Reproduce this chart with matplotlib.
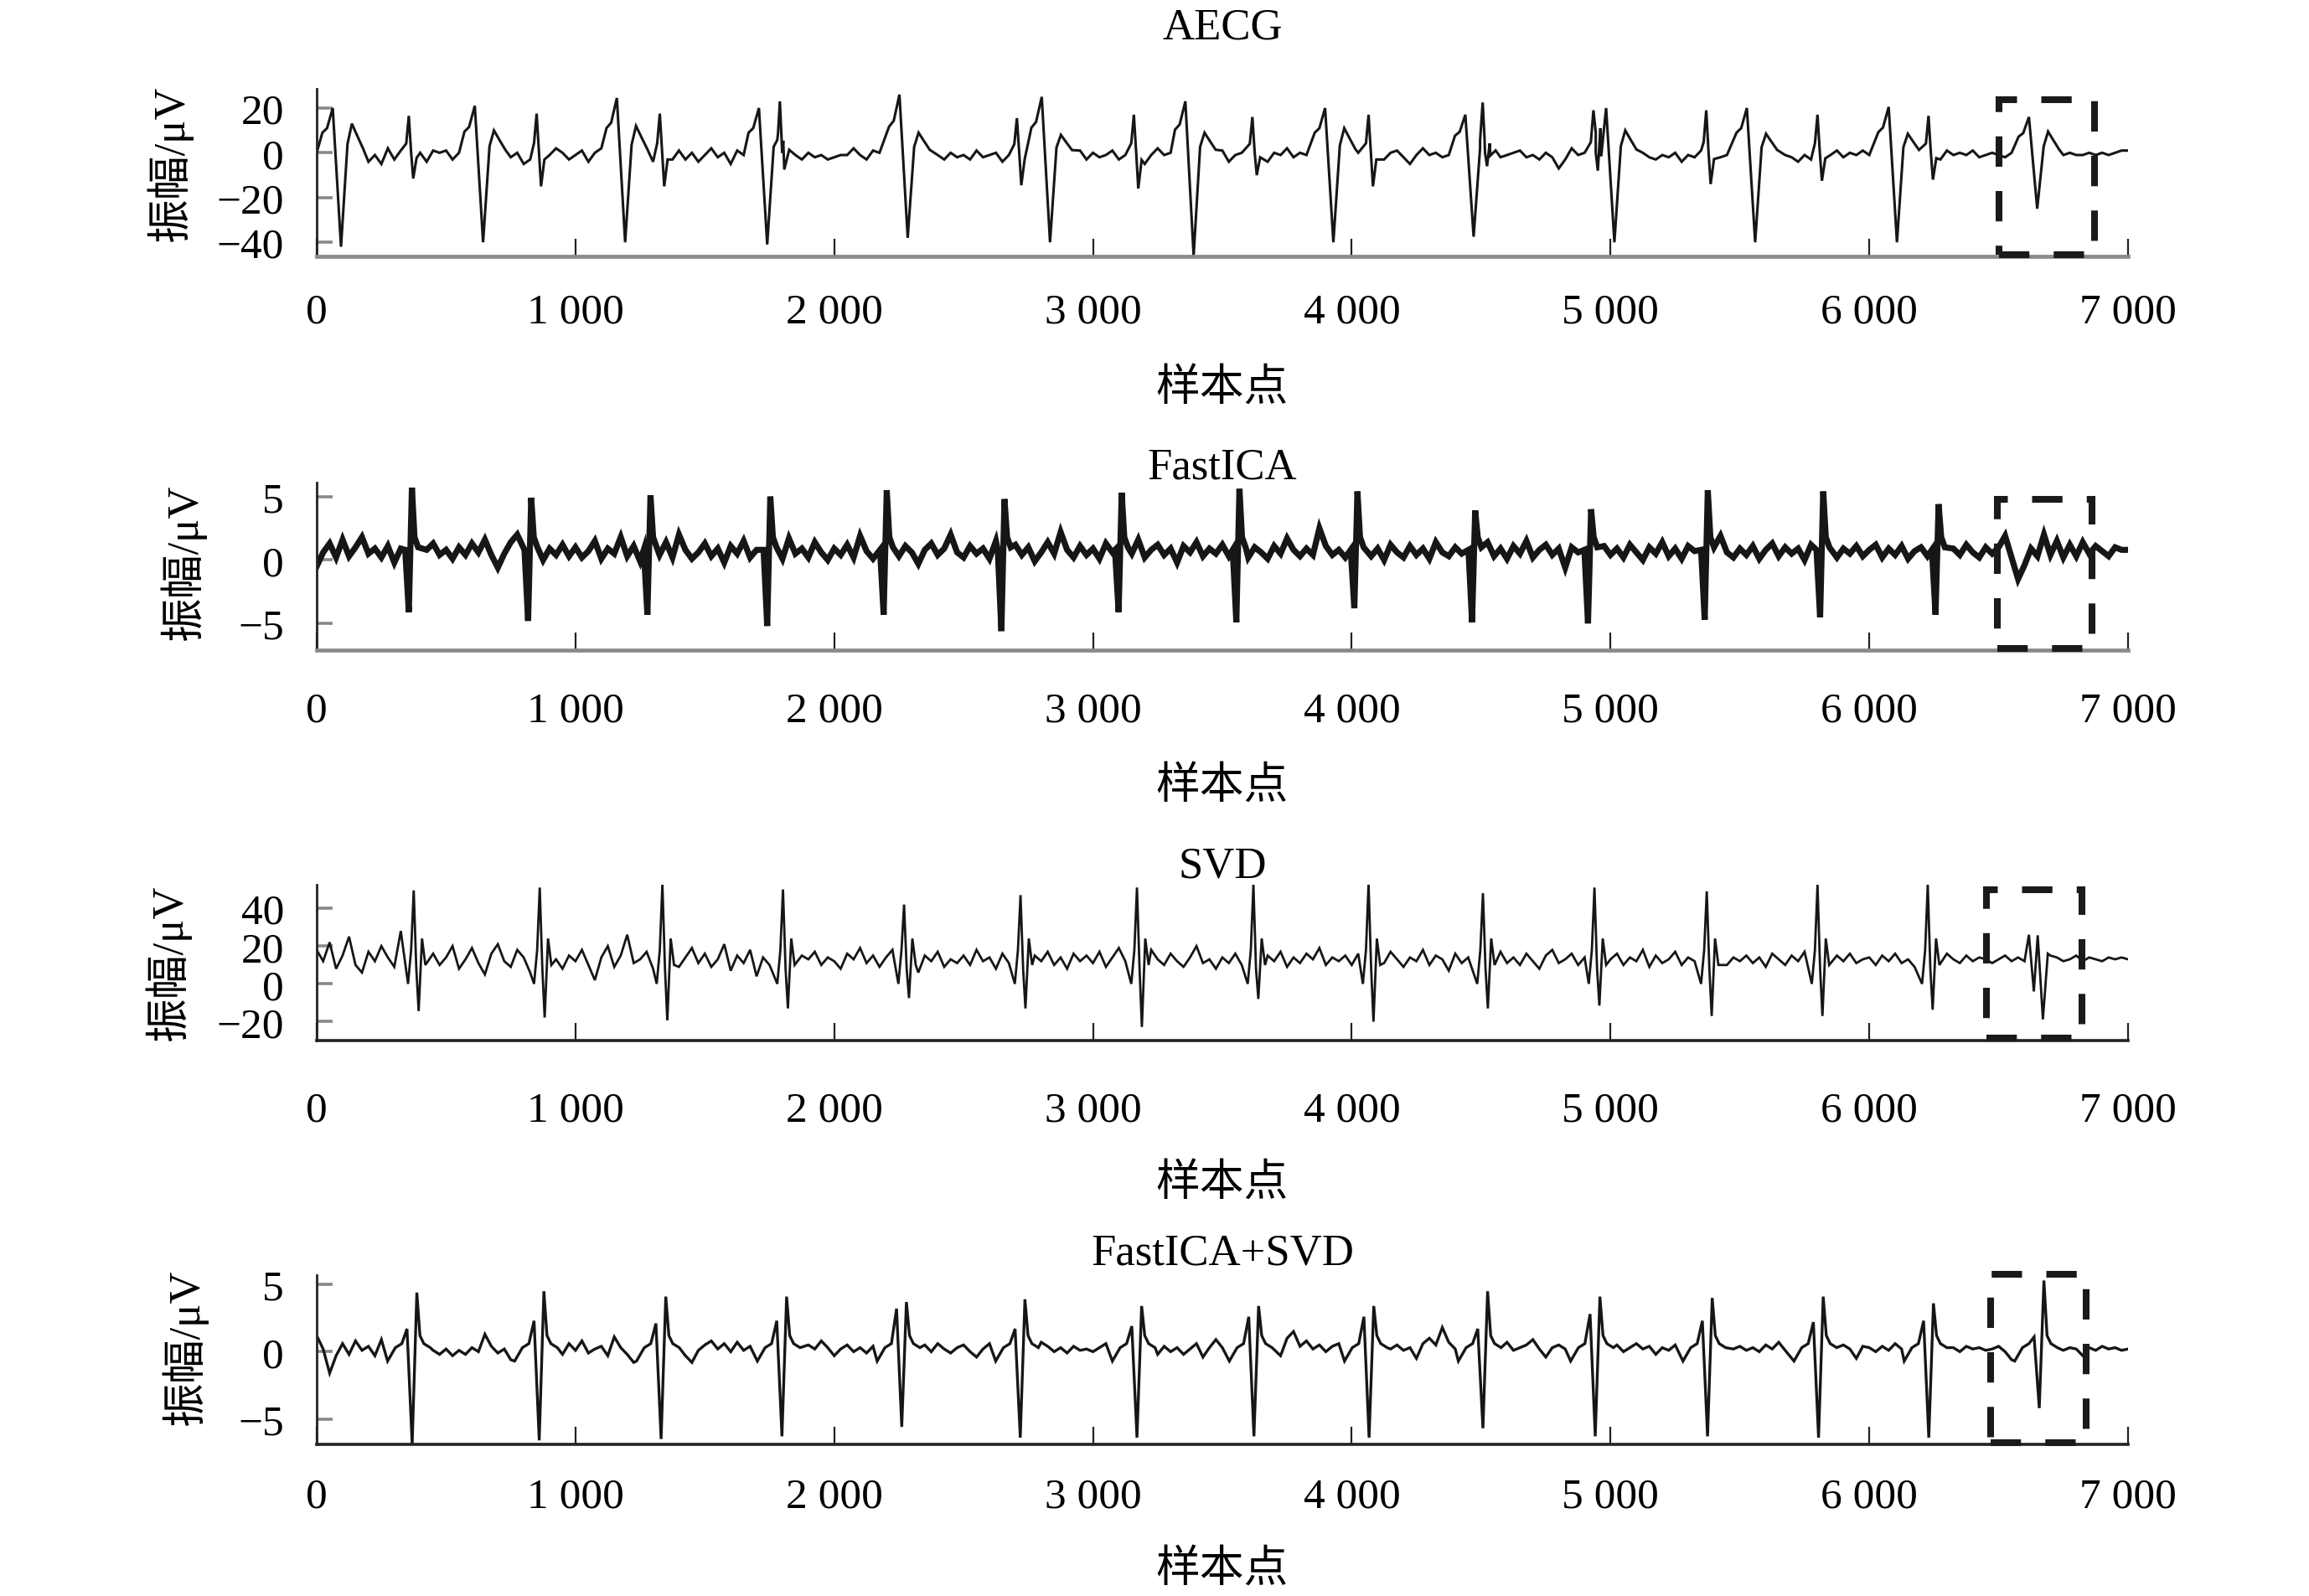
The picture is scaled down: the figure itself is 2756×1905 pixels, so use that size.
import numpy as np
import matplotlib
matplotlib.use('Agg')
import matplotlib.pyplot as plt
from matplotlib.patches import Rectangle

plt.rcParams['font.family'] = ['Liberation Serif', 'Noto Sans CJK SC']
plt.rcParams['axes.unicode_minus'] = True

step = 25  # baseline values are read every 25 samples

# ---------------- AECG ----------------
aecg_base = [
    0, 2, 3, 4, 2, 0, -1, -3, -4, -1, -5, 2, -3, 1, -6, -2, 0, -4, 1, 0,
    1, -3, 0, 2, 0, -1, 1, -2, -1, -3, -2, 0, -5, -3, 2, -6, -1, 2, 0, -3,
    -1, 1, -4, 0, 2, -2, 0, -1, -2, 1, 0, -2, -4, -1, 1, -3, 1, -3, 0, -4,
    -1, 2, -2, 0, -5, 1, -1, 0, -2, 1, -1, -3, 1, -2, -1, -3, 0, -2, -1, -3,
    -2, -1, -1, 2, -1, -3, 1, 0, -2, 1, 0, -2, -1, 1, 0, -2, -1, -3, 0, -2,
    -1, -3, 1, -2, -1, 0, -4, -1, 0, -2, 0, -1, -2, 1, 0, -4, -1, -2, 1, -3,
    0, -2, -1, 1, -3, -1, -2, 0, -5, -1, 2, -1, 0, -2, -1, 1, 1, -2, 0, -3,
    1, -4, -1, 0, 1, -3, -2, -4, 0, -1, 2, -2, 0, -1, -2, 0, 2, -1, -2, 1,
    -3, 0, -1, 1, -1, -3, 0, 1, -2, -5, -1, 2, -1, 0, -2, -1, 1, 1, -1, 0,
    -2, -1, 0, -2, -1, 0, 1, -2, -1, -3, 0, -2, -7, -3, 2, -1, 0, -2, -1, 2,
    0, -1, -3, -2, -1, 0, -2, -3, -1, -2, 0, -4, -1, -2, 1, -1, 0, -2, -1, 1,
    1, -1, -2, -1, -3, 0, -2, -1, -2, -4, -1, -3, -2, 0, -1, 1, -2, 0, -1, 1,
    -1, -2, -3, -1, 0, -2, -3, -1, 0, -2, -1, -3, 1, -1, 0, -1, 1, -2, -1, 0,
    -1, -2, 0, -1, -2, -1, 0, -1, -2, 0, -1, 0, -1, -1, 0, -1, 0, -1, 0, 1,
    1]
# maternal complexes (position of the deep trough)
m_pos = [94, 643, 1192, 1741, 2284, 2834, 3389, 3929, 4471, 5015, 5559, 6107, 6649]
m_r = [20, 21, 24.5, 20, 26, 25, 23, 20, 17, 20, 20, 20.5, 16]
m_s = [-42, -40, -40, -41, -38, -40, -46, -40, -37.5, -40, -40, -40, -25]
m_t = [13, 10, 12, 9, 9, 8, 9, 11, 7, 10, 8.5, 8.5, 9.5]
m_off = [-72, -54, -32, 0, 25, 42, 62, 85]
# fetal complexes (position of the spike)
f_pos = [356, 850, 1326, 1790, 2706, 3158, 3616, 4065, 4506, 4934, 5370, 5800, 6229]
f_r = [16.5, 17.5, 17.5, 23, 15.5, 17, 16, 17, 22.5, 19, 19, 17, 16.5]
f_s = [-11.5, -15, -15, -7.5, -14.5, -16, -10, -15, -6, -8, -14, -12.5, -12]
f_off = [-10, 0, 9, 17, 30]

# ---------------- FastICA ----------------
ica_base = [
    -0.5, 0.6, 1.3, 0.2, 1.6, 0.3, 1.0, 1.8, 0.5, 0.9, 0.2, 1.1, -0.2, 0.9, 0.5, 1.2, 0.3, 0.8, 1.3, 0.4,
    0.8, 0.1, 1.0, 0.4, 1.3, 0.6, 1.6, 0.4, -0.6, 0.5, 1.4, 2.0, 0.7, 0.2, 1.1, 0.0, 0.9, 0.4, 1.2, 0.3,
    1.0, 0.2, 0.7, 1.5, 0.1, 0.9, 0.5, 1.8, 0.3, 1.1, -0.1, 0.8, 1.2, 0.4, 1.4, 0.2, 2.0, 0.8, 0.1, 0.6,
    1.3, 0.3, 0.9, -0.2, 1.1, 0.5, 1.5, 0.2, 0.8, 1.2, 0.4, 1.0, 0.1, 1.7, 0.5, 0.9, 0.2, 1.4, 0.6, 0.0,
    0.9, 0.4, 1.2, 0.2, 1.9, 0.7, 0.1, 1.0, 0.5, 1.4, 0.3, 1.1, 0.6, -0.3, 0.8, 1.3, 0.4, 0.9, 2.0, 0.6,
    0.2, 1.1, 0.5, 0.9, 0.1, 1.5, 0.7, 0.3, 1.2, 0.4, 1.0, -0.1, 0.6, 1.4, 0.5, 2.2, 0.8, 0.2, 1.1, 0.4,
    0.9, 0.1, 1.3, 0.6, 0.3, 1.0, 0.5, 1.6, 0.2, 0.8, 1.2, 0.4, 0.9, -0.2, 1.1, 0.6, 1.4, 0.3, 0.9, 0.5,
    1.2, 0.3, 0.8, 1.5, 0.2, 1.0, 0.6, 0.1, 1.1, 0.5, 1.7, 0.8, 0.3, 0.9, 0.4, 2.5, 1.1, 0.4, 0.8, 0.2,
    1.0, 0.5, 1.3, 0.3, 0.9, 0.0, 1.2, 0.6, 0.2, 1.1, 0.4, 0.9, 0.1, 1.4, 0.6, 0.3, 1.0, 0.5, 1.2, 0.4,
    0.8, 1.4, 0.3, 0.9, 0.1, 1.1, 0.5, 1.5, 0.2, 0.8, 1.2, 0.4, 0.9, -0.6, 1.0, 0.6, 1.3, 0.3, 0.8, 1.1,
    0.4, 0.9, 0.2, 1.2, 0.6, 0.0, 1.0, 0.5, 1.4, 0.3, 0.9, 0.1, 1.1, 0.7, 0.3, 1.2, 0.5, 1.9, 0.6, 0.2,
    0.9, 0.4, 1.1, 0.1, 0.8, 1.3, 0.3, 1.0, 0.5, 0.9, 0.0, 1.2, 0.4, 0.8, 1.4, 0.2, 0.9, 0.5, 1.1, 0.3,
    0.8, 1.2, 0.2, 0.9, 0.4, 1.1, 0.1, 0.7, 1.0, 0.3, 1.3, 0.5, -0.1, 0.9, 0.4, 1.2, 0.6, 0.2, 1.0, 0.5,
    1.0, 1.9, 0.2, -1.5, -0.4, 0.9, 0.3, 2.0, 0.4, 1.5, 0.2, 1.2, 0.3, 1.4, 0.5, 1.1, 0.7, 0.3, 1.0, 0.8,
    0.8]
i_pos = [356, 817, 1278, 1741, 2191, 2646, 3099, 3554, 4010, 4465, 4913, 5364, 5810, 6256]
i_s = [-4.1, -4.8, -4.3, -5.2, -4.3, -5.6, -4.1, -4.9, -3.8, -4.9, -5.0, -4.7, -4.5, -4.3]
i_r = [5.7, 4.9, 5.1, 5.0, 5.5, 4.8, 5.3, 5.6, 5.4, 3.9, 4.0, 5.5, 5.4, 4.4]
i_off = [-14, 0, 12, 22, 36]

# ---------------- SVD ----------------
svd_base = [
    18, 12, 22, 8, 15, 25, 10, 6, 17, 12, 20, 14, 9, 28, 13, 18, 5, 11, 16, 10,
    14, 20, 8, 13, 19, 11, 5, 16, 21, 12, 9, 18, 14, 6, 17, 22, 10, 13, 8, 15,
    12, 18, 10, 2, 14, 20, 9, 15, 26, 11, 13, 17, 8, 21, 12, 16, 9, 14, 19, 11,
    16, 9, 13, 21, 7, 15, 11, 18, 4, 14, 10, 16, 12, 20, 9, 15, 13, 17, 10, 14,
    12, 8, 16, 13, 19, 11, 15, 9, 14, 18, 3, 24, 10, 6, 15, 12, 17, 9, 13, 11,
    15, 10, 18, 12, 14, 8, 16, 11, 20, 13, 9, 15, 12, 17, 10, 14, 8, 16, 12, 15,
    11, 17, 9, 14, 19, 12, 7, 15, 11, 18, 13, 10, 16, 12, 9, 14, 20, 11, 13, 8,
    14, 11, 16, 10, 18, 13, 6, 15, 12, 17, 9, 14, 11, 16, 13, 19, 10, 14, 12, 15,
    10, 16, 12, 8, 15, 11, 17, 13, 9, 14, 12, 18, 10, 15, 13, 7, 16, 11, 14, 12,
    15, 9, 13, 17, 11, 14, 10, 16, 12, 8, 15, 18, 11, 13, 16, 10, 14, 12, 15, 11,
    13, 16, 10, 14, 12, 18, 9, 15, 11, 13, 17, 10, 14, 12, 16, 11, 13, 15, 10, 14,
    12, 15, 11, 14, 9, 16, 13, 10, 15, 12, 17, 11, 14, 13, 10, 15, 12, 16, 11, 13,
    14, 10, 15, 12, 16, 11, 13, 9, 15, 12, 14, 10, 16, 13, 11, 15, 12, 14, 13, 11,
    13, 15, 12, 14, 11, 16, 13, 12, 15, 14, 12, 13, 15, 12, 14, 13, 12, 14, 13, 14,
    13]
v_pos = [375, 862, 1336, 1802, 2270, 2720, 3170, 3620, 4065, 4507, 4938, 5372, 5800, 6226]
v_r = [49.5, 51, 53, 50, 42, 47, 51, 52.5, 53, 48, 51, 49, 52.5, 52.5]
v_s = [-14.4, -17.8, -19.3, -13, -7.5, -13, -22.8, -8, -20, -13, -11.5, -17, -17, -13.7]
v_off = [-22, -10, 0, 10, 19, 32, 45]
# the small complex inside the dashed box
v_box_x = [6600, 6617, 6636, 6651, 6671, 6690]
v_box_y = [12, 26, -4, 25.7, -18.8, 16]

# ---------------- FastICA+SVD ----------------
comb_base = [
    1.2, 0.2, -1.6, -0.3, 0.6, -0.2, 0.8, 0.1, 0.4, -0.3, 0.9, 0.2, -0.5, 0.3, 1.0, 0.5, 1.3, 0.6, 0.1, -0.2,
    0.2, -0.3, 0.1, -0.2, 0.3, 0.0, 1.3, 0.4, -0.1, 0.2, -0.6, 0.5, 1.5, 2.0, 0.8, 0.5, 0.3, 0.1, -0.2, 0.6,
    0.1, 0.8, -0.1, 0.2, 0.4, -0.3, 1.1, 0.3, -0.2, -0.8, 0.2, 0.9, 1.6, 2.0, 0.9, 0.5, 0.2, -0.3, -0.8, 0.1,
    0.5, 0.8, 0.2, 0.6, 0.0, 0.7, 0.1, 0.4, -0.2, 0.6, 0.3, 1.0, 1.8, 0.6, 0.3, 0.0, 0.5, 0.2, 0.8, 0.3,
    -0.3, 0.2, 0.5, 0.0, 0.3, -0.1, 0.4, 0.1, 0.6, 1.0, 1.6, 0.6, -0.4, 0.2, 0.5, 0.0, 0.6, 0.2, -0.1, 0.3,
    0.5, 0.0, -0.4, 0.2, 0.6, 0.1, 0.8, 0.3, -0.6, 0.4, 1.0, 1.6, 0.7, 0.4, 0.0, 0.3, -0.1, 0.4, 0.1, 0.2,
    0.0, 0.3, 0.6, 0.1, -0.3, 0.5, 1.0, 1.5, 0.5, 0.2, -0.2, 0.4, 0.0, 0.3, -0.2, 0.2, 0.6, -0.4, 0.3, 0.9,
    0.3, 0.5, 0.0, 0.4, 0.1, 0.3, -0.1, 0.4, 0.7, -0.3, 1.0, 1.5, 0.4, 0.8, 0.2, 0.5, 0.0, 0.4, 0.6, 0.1,
    0.3, -0.2, 0.5, 0.1, 0.4, 0.9, 0.2, 0.5, 0.1, 0.3, -0.5, 0.6, 1.0, 0.5, 1.8, 0.7, 0.2, 0.6, -0.1, 0.5,
    0.8, 0.2, 0.4, 0.0, 0.7, 0.1, 0.3, 0.5, 0.9, 0.2, -0.4, 0.3, 0.5, 0.2, 0.0, 0.6, 0.3, -0.3, 0.4, 0.2,
    0.1, 0.5, 0.0, 0.3, 0.6, 0.2, 0.4, -0.2, 0.3, 0.1, 0.5, 0.8, 0.2, -0.6, 0.3, 0.1, 0.4, 0.0, 0.6, 0.2,
    0.4, 0.1, 0.3, 0.0, 0.5, 0.2, 0.7, 0.1, -0.2, 0.3, 0.5, 0.0, 0.4, 0.9, 0.3, 0.1, 0.5, 0.2, -0.5, 0.4,
    0.3, 0.0, 0.4, 0.1, 0.6, 0.2, 0.3, -0.4, 0.5, 0.1, 0.4, 0.8, 0.2, 0.3, 0.0, 0.4, 0.2, 0.3, 0.1, 0.2,
    0.4, 0.0, -0.6, 0.3, 0.5, 0.0, 0.2, -0.5, 0.3, 0.6, 0.1, 0.3, 0.2, -0.3, 0.3, 0.1, 0.4, 0.2, 0.3, 0.1,
    0.2]
c_pos = [369, 860, 1331, 1798, 2261, 2719, 3170, 3622, 4067, 4507, 4941, 5375, 5804, 6230, 6657]
c_s = [-6.9, -6.6, -6.5, -6.3, -5.6, -6.4, -6.4, -6.3, -6.4, -5.7, -6.3, -6.3, -6.4, -6.4, -4.2]
c_r = [4.4, 4.5, 4.1, 4.1, 3.7, 3.9, 3.4, 3.4, 3.4, 4.5, 4.1, 4.0, 4.1, 3.6, 5.3]
c_pre = [1.7, 2.3, 2.1, 2.3, 3.2, 1.7, 1.9, 2.6, 2.6, 1.7, 2.8, 2.3, 2.2, 2.3, 1.1]
c_off = [-95, -65, -40, -20, 0, 18, 30, 45, 70]

# dashed boxes (data coords)
box_x0 = [6500, 6494, 6452, 6468]
box_x1 = [6872, 6860, 6823, 6837]
box_y0 = [-45.6, -7.0, -28.7, -6.8]
box_y1 = [23.7, 4.8, 49.8, 5.75]

titles = ['AECG', 'FastICA', 'SVD', 'FastICA+SVD']
ylims = [(-46.3, 28.6), (-7.1, 6.1), (-30, 52.5), (-6.9, 5.7)]
yticks = [[-40, -20, 0, 20], [-5, 0, 5], [-20, 0, 20, 40], [-5, 0, 5]]
xticks = [0, 1000, 2000, 3000, 4000, 5000, 6000, 7000]
xticklabels = ['0', '1 000', '2 000', '3 000', '4 000', '5 000', '6 000', '7 000']


def merge(base, beats, extra_x=(), extra_y=()):
    x = np.arange(len(base)) * step
    y = np.asarray(base, float)
    keep = np.ones(len(base), bool)
    px, py = list(extra_x), list(extra_y)
    if len(px):
        keep &= ~((x > min(px) - 10) & (x < max(px) + 10))
    for pos, offs, vals, lo, hi in beats:
        keep &= ~((x > pos + lo) & (x < pos + hi))
        px += [pos + o for o in offs]
        py += list(vals)
    ax_ = np.concatenate([x[keep], px])
    ay_ = np.concatenate([y[keep], py])
    o = np.argsort(ax_, kind='stable')
    return ax_[o], ay_[o]


beats1 = []
for p, r, s, t in zip(m_pos, m_r, m_s, m_t):
    beats1.append((p, m_off, [0.45*r, 0.55*r, r, s, 0.3*t, t, 0.6*t, 0.15*t], -85, 95))
for p, r, s in zip(f_pos, f_r, f_s):
    beats1.append((p, f_off, [0.25*r, r, 0, s, 0.2*s], -20, 40))
sig1 = merge(aecg_base, beats1)

beats2 = [(p, i_off, [0.8, s, r, 1.8, 1.0], -20, 45) for p, s, r in zip(i_pos, i_s, i_r)]
sig2 = merge(ica_base, beats2)

beats3 = [(p, v_off, [0, 18, r, 8, s, 24, 10], -35, 55) for p, r, s in zip(v_pos, v_r, v_s)]
sig3 = merge(svd_base, beats3, v_box_x, v_box_y)

beats4 = [(p, c_off, [-0.7, 0.3, 0.6, pre, s, r, 1.2, 0.6, 0.3], -105, 80)
          for p, s, r, pre in zip(c_pos, c_s, c_r, c_pre)]
sig4 = merge(comb_base, beats4)

signals = [sig1, sig2, sig3, sig4]
lws = [1.1, 2.6, 1.0, 1.2]

# layout, in pixels of the 2756x1906 picture
W, H = 2756, 1906
left_px, right_px = 378, 2540
tops = [107, 577, 1057, 1523]
bottoms = [307, 777, 1243, 1725]
bottom_colors = ['#8a8a8a', '#8a8a8a', '#222222', '#222222']
bottom_lw = [1.7, 1.7, 1.3, 1.3]
xpads = [15.5, 17.5, 21.5, 14]
xlab_y = [-0.785, -0.81, -0.914, -0.738]
ylab_x = [-0.0814, -0.074, -0.0823, -0.073]
ylab_y = [0.555, 0.525, 0.5, 0.574]
title_y = [1.37, 1.09, 1.12, 1.13]

fig = plt.figure(figsize=(W / 200, H / 200), dpi=200)

for k in range(4):
    ax = fig.add_axes([left_px / W, 1 - bottoms[k] / H,
                       (right_px - left_px) / W, (bottoms[k] - tops[k]) / H])
    x, y = signals[k]
    ax.plot(x, y, color='#161616', lw=lws[k], solid_joinstyle='miter')
    ax.set_xlim(0, 7000)
    ax.set_ylim(*ylims[k])
    ax.spines['top'].set_visible(False)
    ax.spines['right'].set_visible(False)
    ax.spines['left'].set_linewidth(1.0)
    ax.spines['left'].set_color('#222222')
    ax.spines['bottom'].set_linewidth(bottom_lw[k])
    ax.spines['bottom'].set_color(bottom_colors[k])
    ax.set_xticks(xticks)
    ax.set_xticklabels(xticklabels)
    ax.set_yticks(yticks[k])
    ax.tick_params(axis='x', direction='in', length=7.5, width=0.8, color='#222222',
                   labelsize=18.5, pad=xpads[k])
    ax.tick_params(axis='y', direction='in', length=7, width=1.3, color='#888888',
                   labelsize=18.5, pad=14)
    ax.set_xlabel('样本点', fontsize=19)
    ax.xaxis.set_label_coords(0.5, xlab_y[k])
    ax.xaxis.label.set_va('center')
    ax.set_ylabel('振幅/μV', fontsize=19)
    ax.yaxis.set_label_coords(ylab_x[k], ylab_y[k])
    ax.yaxis.label.set_va('center')
    ax.text(0.5, title_y[k], titles[k], transform=ax.transAxes, ha='center',
            va='center', fontsize=19)
    rect = Rectangle((box_x0[k], box_y0[k]), box_x1[k] - box_x0[k], box_y1[k] - box_y0[k],
                     fill=False, ec='#1a1a1a', lw=2.9, ls=(0, (4.5, 3.6)),
                     clip_on=False, zorder=5)
    ax.add_patch(rect)

fig.savefig('out.png', dpi=200)
